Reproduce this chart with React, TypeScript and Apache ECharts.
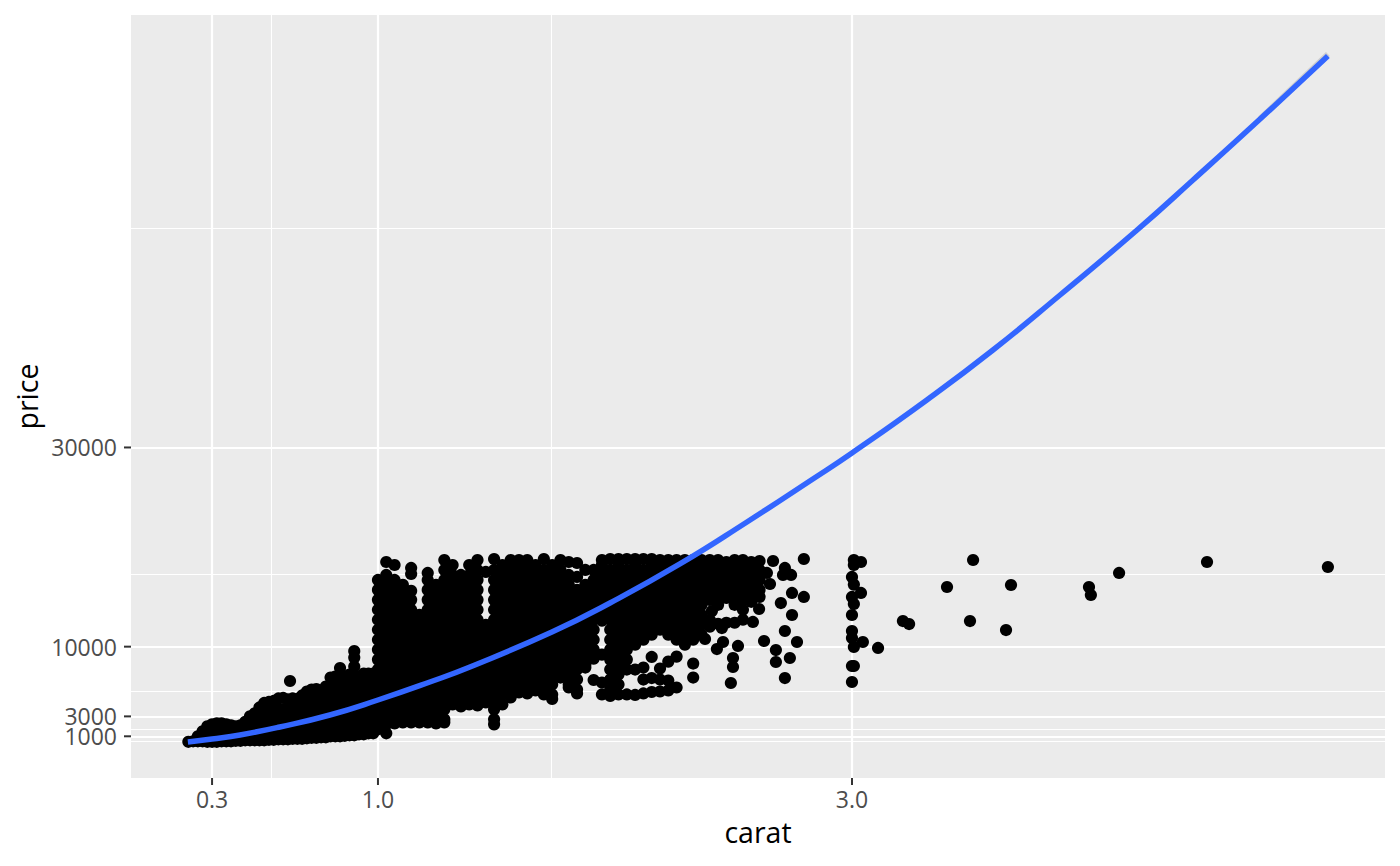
import React, { useEffect, useRef } from "react";
import * as echarts from "echarts";

// Tick values and minor grid positions
const xMajor = [0.3, 1, 3];
const xMinor = [0.5477, 1.732];
const yMajor = [3000, 10000, 30000];
const yMajorLow = [1000];
const yMinor = [547.7, 1732, 5477, 17320, 51962];

// Fitted curve
const fitCarats = [0.198, 0.3, 0.418, 0.586, 0.797, 1.0, 1.219, 1.388, 1.734, 1.979, 2.274, 2.557, 2.835, 3.0, 3.316, 3.595, 3.878, 4.203, 4.439, 4.722, 5.008];
const fitPrices = [428, 729, 1130, 1934, 3139, 4645, 6452, 7958, 11472, 14383, 18300, 22516, 26833, 29443, 34765, 39785, 45307, 51833, 56853, 62977, 69302];
const bandCarats = [4.722, 5.008];
const bandPrices = [63020, 69500];

// Small stones: prices seen around each carat value
const smallCarats = [0.2, 0.22, 0.24, 0.26, 0.28, 0.3, 0.32, 0.34, 0.36, 0.38, 0.4, 0.42, 0.44, 0.46, 0.48, 0.5, 0.52, 0.54, 0.56, 0.58, 0.6, 0.62, 0.64, 0.66, 0.68, 0.7, 0.72, 0.74, 0.76, 0.78, 0.8, 0.82, 0.84, 0.86, 0.88, 0.9, 0.92, 0.94, 0.96, 0.98];
const smallPrices = [
  [450],
  [500],
  [500, 1000],
  [500, 1100, 1500],
  [450, 1200, 2000],
  [450, 1300, 2200],
  [450, 1300, 2300],
  [500, 1300, 2300],
  [500, 1400, 2200],
  [500, 1400, 2100],
  [550, 1400, 2000],
  [550, 1500, 2100],
  [600, 1500, 2450],
  [600, 1500, 2400, 3000],
  [600, 1500, 2400, 3300],
  [600, 1500, 2500, 3500, 3900],
  [600, 1500, 2500, 3500, 4350],
  [650, 1500, 2500, 3500, 4450],
  [650, 1600, 2600, 3600, 4550],
  [700, 1700, 2700, 3700, 4800],
  [700, 1700, 2700, 3700, 4850],
  [700, 1700, 2700, 3700, 4700],
  [750, 1750, 2750, 3750, 4800],
  [750, 1750, 2750, 3750, 4750],
  [750, 1750, 2750, 3750, 4750, 5100],
  [800, 1800, 2800, 3800, 4800, 5500],
  [850, 1850, 2850, 3850, 4850, 5700],
  [850, 1850, 2850, 3850, 4850, 5750],
  [900, 1900, 2900, 3900, 4900, 5600],
  [900, 1900, 2900, 3900, 4900, 6000],
  [1000, 2000, 3000, 4000, 5000, 6000, 6900],
  [1000, 2000, 3000, 4000, 5000, 6000, 7000],
  [1000, 2000, 3000, 4000, 5000, 6000, 7000, 7850],
  [1050, 2050, 3050, 4050, 5050, 6050, 7000],
  [1100, 2100, 3100, 4100, 5100, 6100, 7200],
  [1100, 2100, 3100, 4100, 5100, 6100, 7100, 8000, 8900, 9550],
  [1200, 2200, 3200, 4200, 5200, 6200, 7000],
  [1200, 2200, 3200, 4200, 5200, 6200, 7300],
  [1300, 2300, 3300, 4300, 5300, 6300, 7300],
  [1300, 2300, 3300, 4300, 5300, 6300, 7300],
];

// The dense mass: prices seen around each carat value
const denseCarats = [1.0, 1.035, 1.07, 1.105, 1.14, 1.175, 1.21, 1.245, 1.28, 1.315, 1.35, 1.385, 1.42, 1.455, 1.49, 1.525, 1.56, 1.595, 1.63, 1.665, 1.7, 1.735, 1.77, 1.805, 1.84, 1.875, 1.91, 1.945, 1.98, 2.015, 2.05, 2.085, 2.12, 2.155, 2.19, 2.225, 2.26, 2.295, 2.33, 2.365, 2.4, 2.435, 2.47, 2.505, 2.54, 2.575, 2.61];
const densePrices = [
  [16700, 15700, 14700, 13700, 12700, 11700, 10700, 9700, 8700, 7700, 6700, 5700, 4700, 3700, 2700, 1700],
  [18500, 17200, 16200, 15200, 14200, 13200, 12200, 11200, 10200, 9200, 8200, 7200, 6200, 5200, 4200, 3200, 2200, 1300],
  [18200, 16700, 15700, 14700, 13700, 12700, 11700, 10700, 9700, 8700, 7700, 6700, 5700, 4700, 3700, 2700, 2300],
  [16200, 15200, 14200, 13200, 12200, 11200, 10200, 9200, 8200, 7200, 6200, 5200, 4200, 3200, 2400],
  [17900, 17300, 15600, 14700, 13700, 12700, 11700, 10700, 9700, 8700, 7700, 6700, 5700, 4700, 3700, 2700, 2400],
  [13200, 12200, 11200, 10200, 9200, 8200, 7200, 6200, 5200, 4200, 3200, 2400],
  [17400, 16700, 15700, 14700, 13700, 12700, 11700, 10700, 9700, 8700, 7700, 6700, 5700, 4700, 3700, 2700, 2400],
  [16200, 15200, 14200, 13200, 12200, 11200, 10200, 9200, 8200, 7200, 6200, 5200, 4200, 3200, 2300],
  [18700, 17700, 16700, 15700, 14700, 13700, 12700, 11700, 10700, 9700, 8700, 7700, 6700, 5700, 4700, 3700, 2700, 2400],
  [18200, 17200, 16200, 15200, 14200, 13200, 12200, 11200, 10200, 9200, 8200, 7200, 6200, 5200, 4200],
  [17200, 16700, 15700, 14700, 13700, 12700, 11700, 10700, 9700, 8700, 7700, 6700, 5700, 4700, 4000],
  [18200, 17200, 16200, 15200, 14200, 13200, 12200, 11200, 10200, 9200, 8200, 7200, 6200, 5200, 4200],
  [18700, 17700, 16700, 15700, 14700, 13700, 12700, 11700, 10700, 9700, 8700, 7700, 6700, 5700, 4700, 4100],
  [17500, 12200, 11200, 10200, 9200, 8200, 7200, 6200, 5200, 4400],
  [18800, 17700, 16700, 15700, 14700, 13700, 12700, 11700, 10700, 9700, 8700, 7700, 6700, 5700, 4700, 3700, 2700, 2200],
  [18200, 17200, 16200, 15200, 14200, 13200, 12200, 11200, 10200, 9200, 8200, 7200, 6200, 5200, 4200],
  [18700, 17700, 16700, 15700, 14700, 13700, 12700, 11700, 10700, 9700, 8700, 7700, 6700, 5700, 4900],
  [18700, 18200, 17200, 16200, 15200, 14200, 13200, 12200, 11200, 10200, 9200, 8200, 7200, 6200, 5400],
  [18700, 17700, 16700, 15700, 14700, 13700, 12700, 11700, 10700, 9700, 8700, 7700, 6700, 5700, 5300],
  [18200, 17200, 16200, 15200, 14200, 13200, 12200, 11200, 10200, 9200, 8200, 7200, 6200, 5600],
  [18800, 17700, 16700, 15700, 14700, 13700, 12700, 11700, 10700, 9700, 8700, 7700, 6700, 5700, 5200],
  [18200, 17200, 16200, 15200, 14200, 13200, 12200, 11200, 10200, 9200, 8200, 7200, 6200, 5200, 4750],
  [18700, 17700, 16700, 15700, 14700, 13700, 12700, 11700, 10700, 9700, 8700, 7700, 6900],
  [18500, 17200, 16200, 15200, 14200, 13200, 12200, 11200, 10200, 9200, 8200, 7200, 6200, 5900],
  [18400, 17000, 15700, 14700, 13700, 12700, 11700, 10700, 9700, 8700, 7700, 6700, 5700, 5300],
  [17700, 16200, 15200, 14200, 13200, 12200, 11200, 10200, 9200, 8200, 7900],
  [17700, 16700, 15700, 14700, 13700, 12700, 11700, 10700, 9700, 8800, 6650],
  [18700, 18200, 17200, 16200, 15200, 14200, 13200, 12600, 9200, 6400, 5200],
  [18800, 17700, 16700, 15700, 14700, 13700, 12700, 11700, 10700, 9700, 8700, 7700, 6700, 5700, 5050],
  [18800, 18200, 17200, 16200, 15200, 14200, 13200, 12200, 11200, 10200, 9200, 8200, 7200, 6200, 5200],
  [18800, 17700, 16700, 15700, 14700, 13700, 12700, 11700, 10700, 9700, 8700, 7700, 5200],
  [18800, 18200, 17200, 16200, 15200, 14200, 13200, 12200, 11200, 10200, 7700, 5150],
  [18800, 17700, 16700, 15700, 14700, 13700, 12700, 11700, 10700, 7900, 6700, 5300],
  [18800, 18200, 17200, 16200, 15200, 14200, 13200, 12200, 11200, 8970, 6850, 5450],
  [18700, 17700, 16700, 15700, 14700, 13700, 12700, 11700, 7800, 6700, 5500],
  [18700, 18200, 17200, 16200, 15200, 14200, 13200, 12200, 11200, 8500, 6600, 5600],
  [18700, 17700, 16700, 15700, 14700, 13700, 12700, 11700, 10700, 9000, 5900],
  [18700, 18200, 17200, 16200, 15200, 14200, 13200, 12200, 11200, 10200],
  [18700, 17700, 16700, 15700, 14700, 13700, 12700, 11700, 10700, 8300, 6900],
  [18700, 18200, 17200, 16200, 15200, 14200, 13200, 12200, 11200],
  [18700, 17700, 16700, 15700, 14700, 12700, 12000],
  [18700, 18200, 17200, 16200, 15200, 14200, 12300],
  [18500, 17700, 16700, 15700, 14900, 12400],
  [18700, 18200, 17200, 16200, 15200, 14200, 12400],
  [18700, 17700, 16700, 15700, 14700, 13700, 12700],
  [18500, 18000, 17200, 16200, 15200, 14500],
  [18600, 17700, 16700, 15700, 15000],
];

// Stones that stand apart from the mass
const looseCarats = [0.629, 2.797, 2.667, 2.717, 2.743, 2.709, 2.641, 2.654, 2.747, 2.797, 2.7, 2.747, 2.717, 2.629, 2.768, 2.679, 2.738, 2.679, 2.717, 2.498, 2.498, 2.489, 2.38, 2.456, 2.43, 2.519, 2.608, 2.582, 2.451, 2.409, 3.008, 3.008, 3.038, 3.0, 3.008, 3.038, 3.0, 3.008, 3.0, 3.0, 3.0, 3.008, 3.046, 3.11, 3.0, 3.008, 3.0, 3.215, 3.241, 3.401, 3.511, 3.498, 3.671, 3.65, 4.0, 4.008, 4.127, 4.498, 5.008];
const loosePrices = [6550, 18800, 18600, 17900, 17200, 17200, 17400, 16290, 15390, 14990, 14380, 13180, 11570, 10570, 10470, 9660, 8860, 8460, 6850, 8860, 7960, 6350, 10770, 10470, 9760, 10070, 13780, 12480, 11870, 13580, 18700, 18200, 18500, 17000, 16230, 15390, 14990, 14280, 13180, 11570, 10870, 9970, 10470, 9870, 8060, 8060, 6450, 12570, 12270, 15990, 18700, 12570, 16190, 11670, 15990, 15190, 17400, 18500, 18000];

const X_MIN = -0.042;
const X_MAX = 5.249;
const Y_MIN = -3187;
const Y_MAX = 73420;
const TICK_LENGTH = 7;
const FONT = "'Open Sans', 'Noto Sans', sans-serif";

function columnsToPoints(carats: number[], prices: number[][]) {
  const out: number[][] = [];
  carats.forEach((c, i) => prices[i].forEach((p) => out.push([c, p])));
  return out;
}

export default function App() {
  const ref = useRef<HTMLDivElement>(null);
  useEffect(() => {
    const chart = echarts.init(ref.current!, undefined, { renderer: "svg" });
    const points = [
      ...columnsToPoints(smallCarats, smallPrices),
      ...columnsToPoints(denseCarats, densePrices),
      ...looseCarats.map((c, i) => [c, loosePrices[i]]),
    ];
    const hiddenParts = { axisLine: { show: false }, axisTick: { show: false }, axisLabel: { show: false } };
    const clearLine = { show: true, onZero: false, lineStyle: { color: "transparent", width: 1 } };
    const noTick = { show: false };
    const yLabel = { show: true, color: "#4D4D4D", fontSize: 23, fontFamily: FONT, margin: 14, hideOverlap: false, formatter: (v: number) => String(v) };
    const whiteMajor = { show: true, lineStyle: { color: "#FFFFFF", width: 2.2 } };
    const whiteMinor = { show: true, lineStyle: { color: "#FFFFFF", width: 1.1 } };
    const tickMark = (dx: number, dy: number) => (_: unknown, api: any) => {
      const p = api.coord([api.value(0), api.value(1)]);
      return {
        type: "line",
        shape: { x1: p[0], y1: p[1], x2: p[0] + dx, y2: p[1] + dy },
        style: { stroke: "#333333", lineWidth: 2 },
      };
    };
    chart.setOption({
      animation: false,
      backgroundColor: "#FFFFFF",
      grid: { left: 131, right: 15, top: 15, bottom: 88, show: true, backgroundColor: "#EBEBEB", borderWidth: 0, outerBoundsMode: "none" },
      xAxis: [
        {
          type: "value", min: X_MIN, max: X_MAX,
          name: "carat", nameLocation: "middle", nameGap: 39, nameMoveOverlap: false,
          nameTextStyle: { color: "#000000", fontSize: 28.5, fontFamily: FONT },
          axisLine: clearLine,
          axisTick: { ...noTick, customValues: xMajor },
          axisLabel: { show: true, customValues: xMajor, color: "#4D4D4D", fontSize: 23, fontFamily: FONT, margin: 9, hideOverlap: false, formatter: (v: number) => v.toFixed(1) },
          splitLine: whiteMajor,
        },
        {
          type: "value", min: X_MIN, max: X_MAX, position: "top", ...hiddenParts,
          axisTick: { show: false, customValues: xMinor },
          splitLine: whiteMinor,
        },
      ],
      yAxis: [
        {
          type: "value", min: Y_MIN, max: Y_MAX, position: "left",
          name: "price", nameLocation: "middle", nameGap: 90, nameRotate: 90, nameMoveOverlap: false,
          nameTextStyle: { color: "#000000", fontSize: 28.5, fontFamily: FONT },
          axisLine: clearLine,
          axisTick: { ...noTick, customValues: yMajor },
          axisLabel: { ...yLabel, customValues: yMajor },
          splitLine: whiteMajor,
        },
        {
          type: "value", min: Y_MIN, max: Y_MAX, position: "right", ...hiddenParts,
          axisTick: { show: false, customValues: yMinor },
          splitLine: whiteMinor,
        },
        {
          type: "value", min: Y_MIN, max: Y_MAX, position: "left", offset: 0,
          axisLine: clearLine,
          axisTick: { ...noTick, customValues: yMajorLow },
          axisLabel: { ...yLabel, customValues: yMajorLow },
          splitLine: whiteMajor,
        },
      ],
      series: [
        { type: "scatter", data: points, symbol: "circle", symbolSize: 12.2, itemStyle: { color: "#000000", opacity: 1 }, silent: true, z: 2 },
        {
          type: "line", data: bandCarats.map((c, i) => [c, bandPrices[i]]), showSymbol: false, silent: true, z: 3,
          lineStyle: { color: "#999999", width: 5.6, opacity: 0.35 },
        },
        {
          type: "line", data: fitCarats.map((c, i) => [c, fitPrices[i]]), smooth: 0.5, showSymbol: false, silent: true, z: 4,
          lineStyle: { color: "#3366FF", width: 5.5, cap: "butt" },
        },
        {
          type: "custom", silent: true, clip: false, z: 5,
          data: xMajor.map((v) => [v, Y_MIN]),
          encode: { x: 0, y: 1 },
          renderItem: tickMark(0, TICK_LENGTH),
        },
        {
          type: "custom", silent: true, clip: false, z: 5,
          data: [...yMajor, ...yMajorLow].map((v) => [X_MIN, v]),
          encode: { x: 0, y: 1 },
          renderItem: tickMark(-TICK_LENGTH, 0),
        },
      ],
    });
    return () => chart.dispose();
  }, []);
  return <div ref={ref} style={{ position: "absolute", left: 0, top: 0, width: 1400, height: 866 }} />;
}
